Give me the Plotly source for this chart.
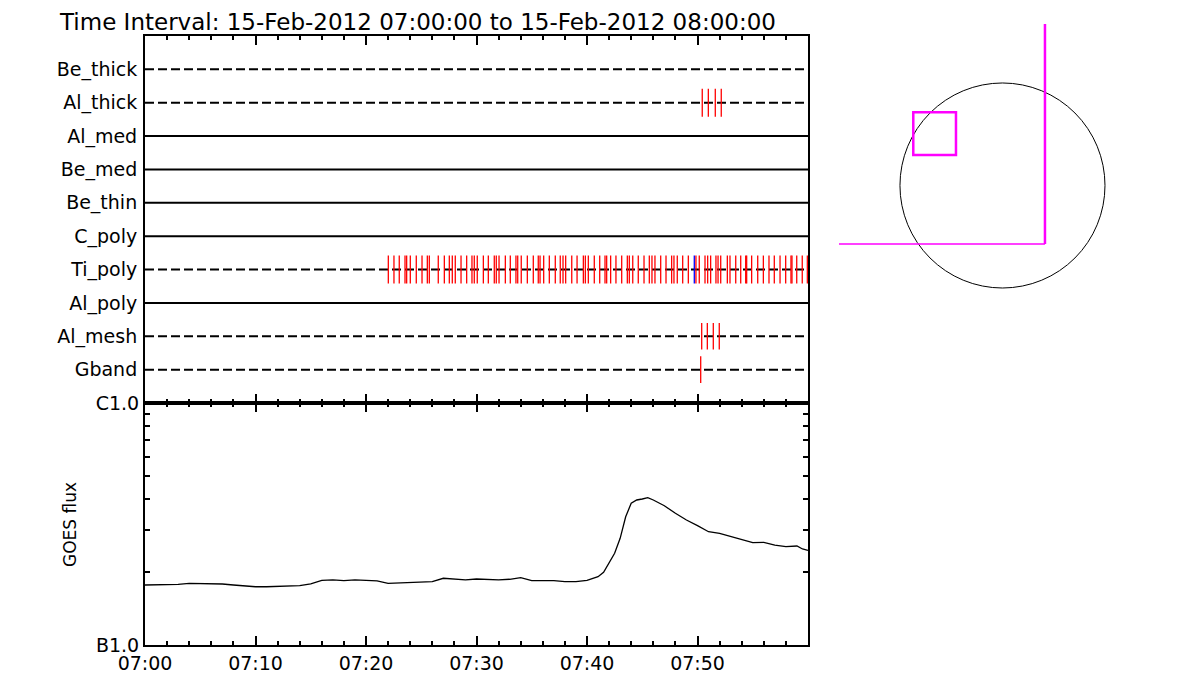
import plotly.graph_objects as go

# ---------------- data ----------------
detectors = ["Be_thick", "Al_thick", "Al_med", "Be_med", "Be_thin",
             "C_poly", "Ti_poly", "Al_poly", "Al_mesh", "Gband"]
row_dashed = [True, True, False, False, False, False, True, False, True, True]

# event times, minutes after 07:00
ti_poly_red = [22.02, 22.53, 23.01, 23.53, 23.68, 24.01, 24.55, 25.07, 25.55, 25.73,
               26.54, 27.09, 27.54, 27.81, 28.08, 28.60, 29.11, 29.59, 29.80, 30.07,
               30.62, 31.07, 31.61, 31.79, 32.04, 32.61, 33.06, 33.57, 33.73, 34.05,
               34.60, 35.14, 35.59, 35.75, 36.08, 36.59, 37.13, 37.58, 37.83, 38.07,
               38.62, 39.10, 39.67, 39.85, 40.12, 40.66, 41.15, 41.63, 41.78, 42.14,
               42.62, 43.14, 43.65, 43.83, 44.14, 44.64, 45.16, 45.64, 45.88, 46.15,
               46.67, 47.15, 47.66, 47.87, 48.17, 48.66, 49.17, 49.86, 50.16, 50.68,
               50.92, 51.19, 51.67, 51.86, 52.10, 52.70, 52.94, 53.46, 53.91, 54.36,
               54.45, 54.90, 55.45, 55.96, 56.47, 56.95, 57.47, 57.98, 58.46, 58.55,
               58.98, 59.48, 59.94]
ti_poly_blue = [49.71]
al_thick_red = [50.43, 50.98, 51.61, 52.15]
al_mesh_red = [50.38, 50.89, 51.43, 51.97]
gband_red = [50.29]

# GOES flux (units of 1e-7 W/m^2, i.e. B-class level)
goes_min = [0, 1, 2, 3, 4, 5, 6, 7, 8, 9, 10, 11, 12, 13, 14, 15, 16, 17, 18, 19,
            20, 21, 22, 23, 24, 25, 26, 27, 28, 29, 30, 31, 32, 33, 34, 35, 36, 37,
            38, 39, 40, 41, 41.5, 42, 42.5, 43, 43.5, 44, 44.5, 45, 45.5, 46, 47,
            48, 49, 50, 51, 52, 53, 54, 55, 56, 57, 58, 59, 59.5, 60]
goes_b = [1.770, 1.770, 1.782, 1.782, 1.799, 1.799, 1.799, 1.787, 1.770, 1.753,
          1.741, 1.741, 1.748, 1.753, 1.758, 1.787, 1.851, 1.857, 1.844, 1.857,
          1.851, 1.839, 1.799, 1.804, 1.804, 1.816, 1.827, 1.887, 1.869, 1.857,
          1.874, 1.862, 1.857, 1.869, 1.898, 1.844, 1.844, 1.844, 1.827, 1.827,
          1.851, 1.916, 1.998, 2.188, 2.393, 2.760, 3.389, 3.851, 3.974, 4.012,
          4.062, 3.974, 3.763, 3.501, 3.285, 3.112, 2.938, 2.894, 2.803, 2.734,
          2.647, 2.657, 2.589, 2.548, 2.565, 2.493, 2.462]

time_tick_min = [0, 10, 20, 30, 40, 50]
time_tick_text = ["07:00", "07:10", "07:20", "07:30", "07:40", "07:50"]

# solar disk panel (arcsec)
sun_radius = 970
fov_box = [-844, -440, 289, 693]          # x0, x1, y0, y1
cross_x = 402
cross_y = -554
cross_top = 1528
cross_left = -1547

title_text = "Time Interval: 15-Feb-2012 07:00:00 to 15-Feb-2012 08:00:00"

# ---------------- figure ----------------
# page body has an 8px margin: make the figure fit inside the 1200x700 window
OFF = 8
W, H = 1200 - 2 * OFF, 700 - 2 * OFF


def px_x(p):
    return (p - OFF) / W


def px_y(p):
    return (H - (p - OFF)) / H


fig = go.Figure()

# detector rows
for i, (name, dashed) in enumerate(zip(detectors, row_dashed)):
    fig.add_trace(go.Scatter(
        x=[0, 60], y=[i + 1, i + 1], mode="lines",
        line=dict(color="black", width=2, dash="9px,4px" if dashed else "solid"),
        xaxis="x", yaxis="y", showlegend=False, hoverinfo="skip"))


def add_marks(times, row, color, half=0.42):
    xs, ys = [], []
    for t in times:
        xs += [t, t, None]
        ys += [row - half, row + half, None]
    fig.add_trace(go.Scatter(x=xs, y=ys, mode="lines",
                             line=dict(color=color, width=1.3),
                             xaxis="x", yaxis="y", showlegend=False,
                             hoverinfo="skip"))


add_marks(al_thick_red, detectors.index("Al_thick") + 1, "#ff0000")
add_marks(ti_poly_red, detectors.index("Ti_poly") + 1, "#ff0000")
add_marks(ti_poly_blue, detectors.index("Ti_poly") + 1, "#0000ff")
add_marks(al_mesh_red, detectors.index("Al_mesh") + 1, "#ff0000", 0.40)
add_marks(gband_red, detectors.index("Gband") + 1, "#ff0000", 0.40)

# GOES curve
fig.add_trace(go.Scatter(x=goes_min, y=[v * 1e-7 for v in goes_b], mode="lines",
                         line=dict(color="black", width=1.3),
                         xaxis="x2", yaxis="y2", showlegend=False))

# solar panel dummy trace to activate axes
fig.add_trace(go.Scatter(x=[0], y=[0], mode="markers", marker=dict(opacity=0),
                         xaxis="x3", yaxis="y3", showlegend=False, hoverinfo="skip"))

xdom = [px_x(145), px_x(808)]
font = "DejaVu Sans"

axis_common = dict(showline=True, linecolor="black", linewidth=2, mirror="ticks",
                   showgrid=False, zeroline=False, automargin=False)

fig.update_layout(
    width=W, height=H, autosize=False,
    margin=dict(l=0, r=0, t=0, b=0, pad=0, autoexpand=False),
    paper_bgcolor="white", plot_bgcolor="white",
    font=dict(family=font, color="black", size=18),
    xaxis=dict(domain=xdom, anchor="y", range=[0, 60], tickmode="array",
               tickvals=time_tick_min, showticklabels=False, ticks="inside",
               ticklen=9, tickwidth=2, tickcolor="black",
               minor=dict(dtick=2, tick0=0, ticks="inside", ticklen=4,
                          tickwidth=2, tickcolor="black"),
               **axis_common),
    yaxis=dict(domain=[px_y(403), px_y(36)], anchor="x", range=[11, 0],
               tickmode="array", tickvals=list(range(1, len(detectors) + 1)),
               ticktext=detectors, ticks="", tickfont=dict(size=19),
               ticklabelstandoff=2, **axis_common),
    xaxis2=dict(domain=xdom, anchor="y2", range=[0, 60], tickmode="array",
                tickvals=time_tick_min, ticktext=time_tick_text, ticks="inside",
                ticklen=9, tickwidth=2, tickcolor="black",
                tickfont=dict(size=19),
                minor=dict(dtick=2, tick0=0, ticks="inside", ticklen=4,
                           tickwidth=2, tickcolor="black"),
                **axis_common),
    yaxis2=dict(domain=[px_y(645), px_y(403)], anchor="x2", type="log",
                range=[-7, -6], tickmode="array", tickvals=[1e-7, 1e-6],
                ticktext=["B1.0", "C1.0"], ticks="inside", ticklen=9,
                tickwidth=2, tickcolor="black", tickfont=dict(size=19),
                minor=dict(tickmode="array",
                           tickvals=[2e-7, 3e-7, 4e-7, 5e-7, 6e-7, 7e-7, 8e-7, 9e-7],
                           ticks="inside", ticklen=5, tickwidth=1.5,
                           tickcolor="black"),
                **axis_common),
    xaxis3=dict(domain=[px_x(830), px_x(1120)], anchor="y3",
                range=[-1632, 1112], visible=False),
    yaxis3=dict(domain=[px_y(300), px_y(20)], anchor="x3",
                range=[-1083.6, 1566], visible=False),
)

fig.add_shape(type="circle", xref="x3", yref="y3",
              x0=-sun_radius, x1=sun_radius, y0=-sun_radius, y1=sun_radius,
              line=dict(color="black", width=1))
fig.add_shape(type="rect", xref="x3", yref="y3",
              x0=fov_box[0], x1=fov_box[1], y0=fov_box[2], y1=fov_box[3],
              line=dict(color="#ff00ff", width=2.5))
fig.add_shape(type="line", xref="x3", yref="y3",
              x0=cross_x, x1=cross_x, y0=cross_y, y1=cross_top,
              line=dict(color="#ff00ff", width=2.5))
fig.add_shape(type="line", xref="x3", yref="y3",
              x0=cross_left, x1=cross_x, y0=cross_y, y1=cross_y,
              line=dict(color="#ff00ff", width=1.5))

fig.add_annotation(text="GOES flux", xref="paper", yref="paper",
                   x=px_x(70), y=px_y(525), textangle=-90,
                   xanchor="center", yanchor="middle", showarrow=False,
                   font=dict(size=17, family=font))

fig.add_annotation(text=title_text, xref="paper", yref="paper",
                   x=px_x(58), y=1.0, xanchor="left", yanchor="top",
                   showarrow=False, borderpad=0,
                   font=dict(size=23, family=font))

fig.write_html("out.html")
